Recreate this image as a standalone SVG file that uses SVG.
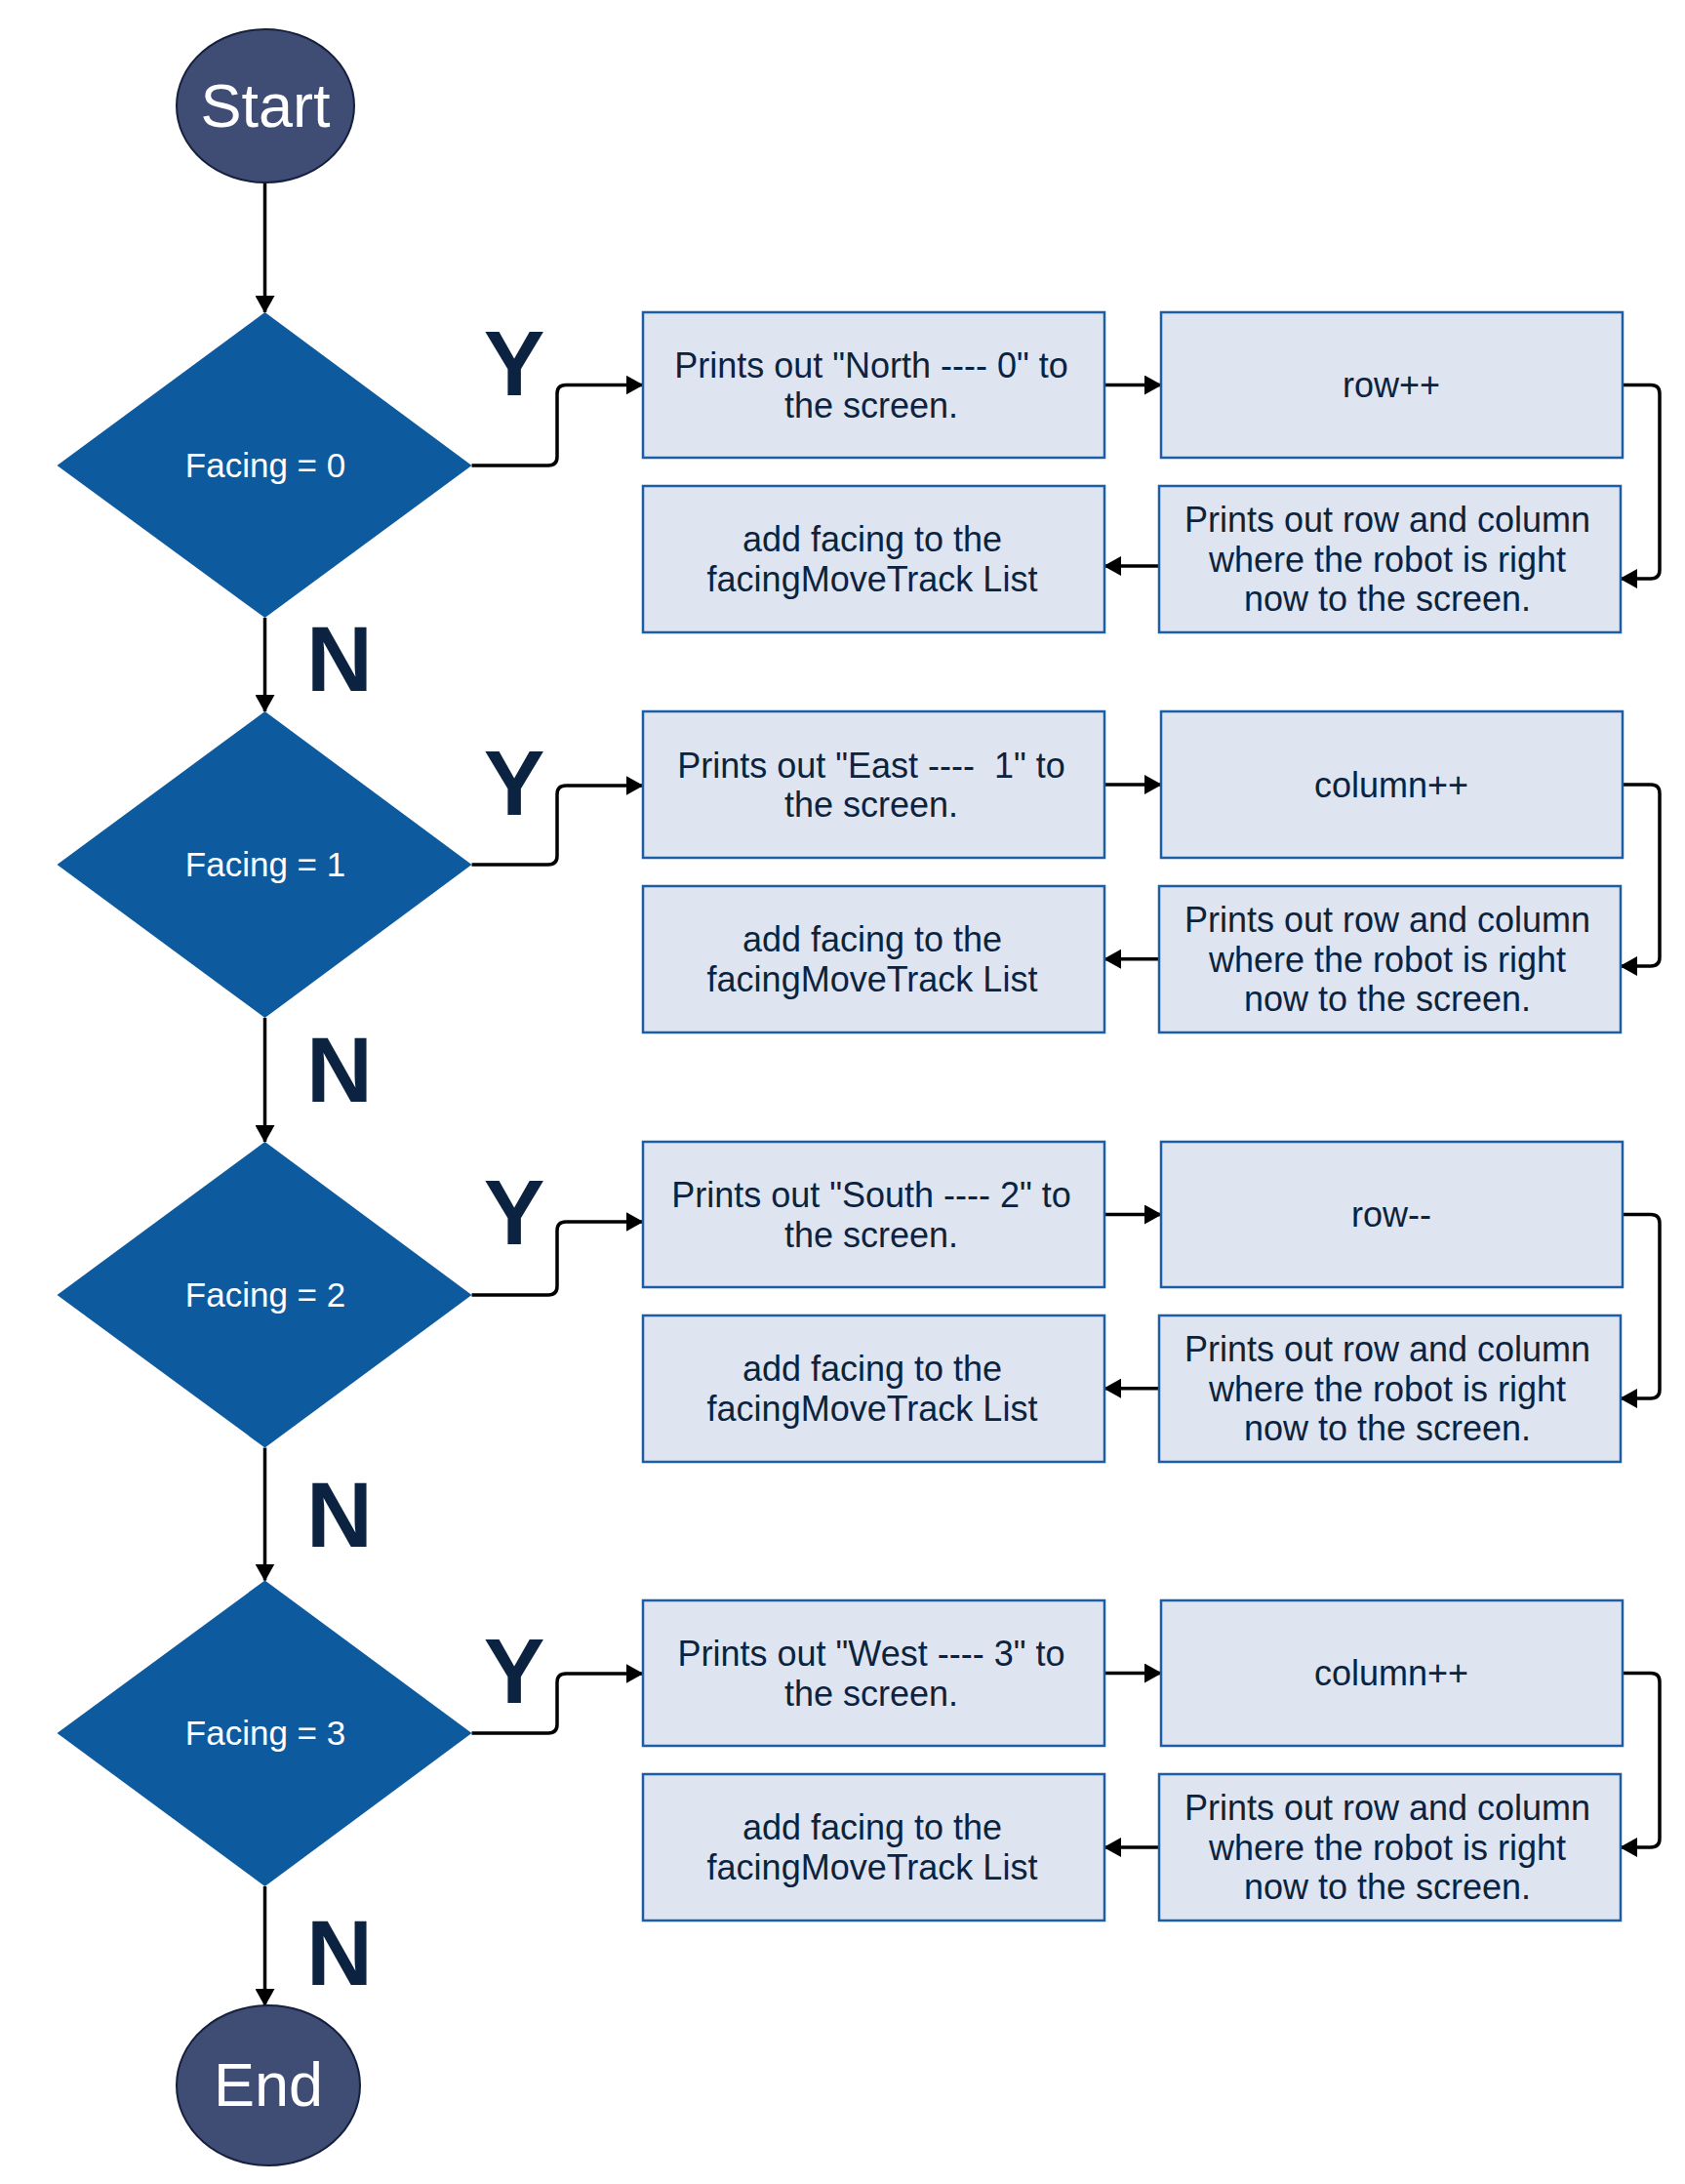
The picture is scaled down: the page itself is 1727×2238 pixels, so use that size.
<svg xmlns="http://www.w3.org/2000/svg" width="1727" height="2238" viewBox="0 0 1727 2238">
<style>
  .term { fill: #3f4c73; stroke: #14203d; stroke-width: 2; }
  .termText { font-family: "Liberation Sans", Arial, sans-serif; font-size: 63px; fill: #ffffff; text-anchor: middle; }
  .dec { fill: #0d5a9e; }
  .decText { font-family: "Liberation Sans", Arial, sans-serif; font-size: 35px; fill: #ffffff; text-anchor: middle; }
  .box { fill: #dee5f0; stroke: #1c5ea5; stroke-width: 2.5; }
  .boxText { font-family: "Liberation Sans", Arial, sans-serif; font-size: 36px; fill: #0c2340; text-anchor: middle; }
  .lbl { font-family: "Liberation Sans", Arial, sans-serif; font-size: 94px; font-weight: bold; fill: #0b2341; text-anchor: middle; }
  .conn { fill: none; stroke: #000000; stroke-width: 3.5; marker-end: url(#arr); }
</style>
<defs>
  <marker id="arr" viewBox="0 0 18 20" refX="17" refY="10" markerUnits="userSpaceOnUse" markerWidth="18" markerHeight="20" orient="auto">
    <path d="M0,0 L18,10 L0,20 z" fill="#000000"/>
  </marker>
</defs>
<rect x="0" y="0" width="1727" height="2238" fill="#ffffff"/>

<g id="connectors">
  <path class="conn" d="M271.5,187 L271.5,320"/>
  <path class="conn" d="M271.5,633 L271.5,729"/>
  <path class="conn" d="M271.5,1043 L271.5,1170"/>
  <path class="conn" d="M271.5,1483.5 L271.5,1619.5"/>
  <path class="conn" d="M271.5,1933 L271.5,2055"/>

  <path class="conn" d="M483.5,477 L562,477 Q571,477 571,468 L571,403.5 Q571,394.5 580,394.5 L658.5,394.5"/>
  <path class="conn" d="M483.5,886 L562,886 Q571,886 571,877 L571,814 Q571,805 580,805 L658.5,805"/>
  <path class="conn" d="M483.5,1327 L562,1327 Q571,1327 571,1318 L571,1261 Q571,1252 580,1252 L658.5,1252"/>
  <path class="conn" d="M483.5,1776 L562,1776 Q571,1776 571,1767 L571,1724 Q571,1715 580,1715 L658.5,1715"/>

  <path class="conn" d="M1132,394.5 L1190,394.5"/>
  <path class="conn" d="M1132,804 L1190,804"/>
  <path class="conn" d="M1132,1244.5 L1190,1244.5"/>
  <path class="conn" d="M1132,1714.5 L1190,1714.5"/>

  <path class="conn" d="M1663,394.5 L1692,394.5 Q1701,394.5 1701,403.5 L1701,584 Q1701,593 1692,593 L1661,593"/>
  <path class="conn" d="M1663,804 L1692,804 Q1701,804 1701,813 L1701,981 Q1701,990 1692,990 L1661,990"/>
  <path class="conn" d="M1663,1244.5 L1692,1244.5 Q1701,1244.5 1701,1253.5 L1701,1424 Q1701,1433 1692,1433 L1661,1433"/>
  <path class="conn" d="M1663,1714.5 L1692,1714.5 Q1701,1714.5 1701,1723.5 L1701,1884 Q1701,1893 1692,1893 L1661,1893"/>

  <path class="conn" d="M1188,580 L1132,580"/>
  <path class="conn" d="M1188,982.7 L1132,982.7"/>
  <path class="conn" d="M1188,1422.7 L1132,1422.7"/>
  <path class="conn" d="M1188,1893 L1132,1893"/>
</g>

<g id="labels">
  <text class="lbl" x="527" y="405">Y</text>
  <text class="lbl" x="527" y="835">Y</text>
  <text class="lbl" x="527" y="1275">Y</text>
  <text class="lbl" x="527" y="1745">Y</text>
  <text class="lbl" x="348" y="708">N</text>
  <text class="lbl" x="348" y="1129">N</text>
  <text class="lbl" x="348" y="1585">N</text>
  <text class="lbl" x="348" y="2034">N</text>
</g>

<g id="start">
  <ellipse class="term" cx="272" cy="108.5" rx="91" ry="78.5"/>
  <text class="termText" x="272" y="130">Start</text>
</g>
<g id="end">
  <ellipse class="term" cx="275" cy="2137" rx="94" ry="82"/>
  <text class="termText" x="275" y="2158">End</text>
</g>

<g id="facing0">
  <polygon class="dec" points="271.5,320 483.5,477 271.5,633 58.5,477"/>
  <text class="decText" x="272" y="489">Facing = 0</text>
</g>
<g id="facing1">
  <polygon class="dec" points="271.5,729 483.5,886 271.5,1043 58.5,886"/>
  <text class="decText" x="272" y="898">Facing = 1</text>
</g>
<g id="facing2">
  <polygon class="dec" points="271.5,1170 483.5,1327 271.5,1483.5 58.5,1327"/>
  <text class="decText" x="272" y="1339">Facing = 2</text>
</g>
<g id="facing3">
  <polygon class="dec" points="271.5,1619.5 483.5,1776 271.5,1933 58.5,1776"/>
  <text class="decText" x="272" y="1788">Facing = 3</text>
</g>

<!-- Row 0 -->
<g id="print0">
  <rect class="box" x="659" y="320" width="473" height="149"/>
  <text class="boxText" x="893" y="387">Prints out "North ---- 0" to</text>
  <text class="boxText" x="893" y="427.5">the screen.</text>
</g>
<g id="op0">
  <rect class="box" x="1190" y="320" width="473" height="149"/>
  <text class="boxText" x="1426" y="407">row++</text>
</g>
<g id="pos0">
  <rect class="box" x="1188" y="498" width="473" height="150"/>
  <text class="boxText" x="1422" y="545">Prints out row and column</text>
  <text class="boxText" x="1422" y="585.5">where the robot is right</text>
  <text class="boxText" x="1422" y="626">now to the screen.</text>
</g>
<g id="add0">
  <rect class="box" x="659" y="498" width="473" height="150"/>
  <text class="boxText" x="894" y="565">add facing to the</text>
  <text class="boxText" x="894" y="605.5">facingMoveTrack List</text>
</g>

<!-- Row 1 -->
<g id="print1">
  <rect class="box" x="659" y="729" width="473" height="150"/>
  <text class="boxText" x="893" y="796.5" xml:space="preserve">Prints out "East ----  1" to</text>
  <text class="boxText" x="893" y="837">the screen.</text>
</g>
<g id="op1">
  <rect class="box" x="1190" y="729" width="473" height="150"/>
  <text class="boxText" x="1426" y="816.5">column++</text>
</g>
<g id="pos1">
  <rect class="box" x="1188" y="908" width="473" height="150"/>
  <text class="boxText" x="1422" y="955">Prints out row and column</text>
  <text class="boxText" x="1422" y="995.5">where the robot is right</text>
  <text class="boxText" x="1422" y="1036">now to the screen.</text>
</g>
<g id="add1">
  <rect class="box" x="659" y="908" width="473" height="150"/>
  <text class="boxText" x="894" y="975">add facing to the</text>
  <text class="boxText" x="894" y="1015.5">facingMoveTrack List</text>
</g>

<!-- Row 2 -->
<g id="print2">
  <rect class="box" x="659" y="1170" width="473" height="149"/>
  <text class="boxText" x="893" y="1237">Prints out "South ---- 2" to</text>
  <text class="boxText" x="893" y="1277.5">the screen.</text>
</g>
<g id="op2">
  <rect class="box" x="1190" y="1170" width="473" height="149"/>
  <text class="boxText" x="1426" y="1257">row--</text>
</g>
<g id="pos2">
  <rect class="box" x="1188" y="1348" width="473" height="150"/>
  <text class="boxText" x="1422" y="1395">Prints out row and column</text>
  <text class="boxText" x="1422" y="1435.5">where the robot is right</text>
  <text class="boxText" x="1422" y="1476">now to the screen.</text>
</g>
<g id="add2">
  <rect class="box" x="659" y="1348" width="473" height="150"/>
  <text class="boxText" x="894" y="1415">add facing to the</text>
  <text class="boxText" x="894" y="1455.5">facingMoveTrack List</text>
</g>

<!-- Row 3 -->
<g id="print3">
  <rect class="box" x="659" y="1640" width="473" height="149"/>
  <text class="boxText" x="893" y="1707">Prints out "West ---- 3" to</text>
  <text class="boxText" x="893" y="1747.5">the screen.</text>
</g>
<g id="op3">
  <rect class="box" x="1190" y="1640" width="473" height="149"/>
  <text class="boxText" x="1426" y="1727">column++</text>
</g>
<g id="pos3">
  <rect class="box" x="1188" y="1818" width="473" height="150"/>
  <text class="boxText" x="1422" y="1865">Prints out row and column</text>
  <text class="boxText" x="1422" y="1905.5">where the robot is right</text>
  <text class="boxText" x="1422" y="1946">now to the screen.</text>
</g>
<g id="add3">
  <rect class="box" x="659" y="1818" width="473" height="150"/>
  <text class="boxText" x="894" y="1885">add facing to the</text>
  <text class="boxText" x="894" y="1925.5">facingMoveTrack List</text>
</g>
</svg>
